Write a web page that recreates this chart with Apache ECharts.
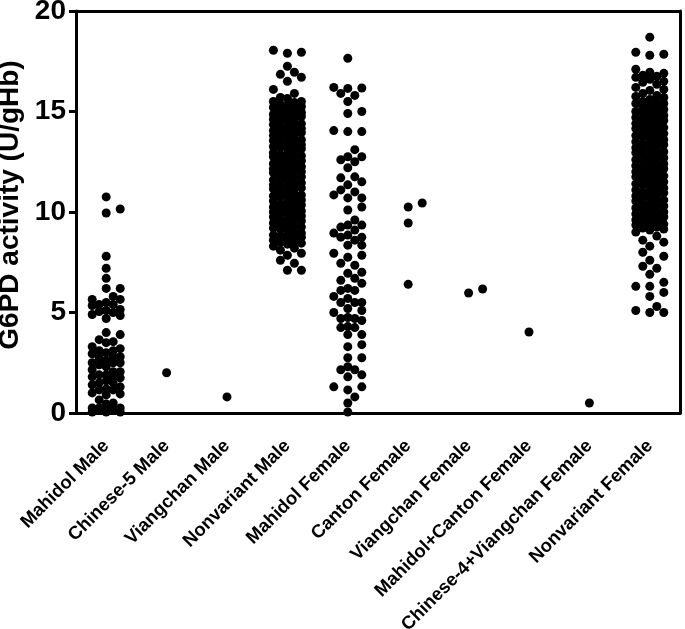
<!DOCTYPE html>
<html><head><meta charset="utf-8">
<script src="https://cdn.jsdelivr.net/npm/echarts@6/dist/echarts.min.js"></script>
<style>html,body{margin:0;padding:0;background:#fff}#c{width:685px;height:629px}</style>
</head><body><div id="c"></div>
<script>
const categories = ['Mahidol Male','Chinese-5 Male','Viangchan Male','Nonvariant Male','Mahidol Female','Canton Female','Viangchan Female','Mahidol+Canton Female','Chinese-4+Viangchan Female','Nonvariant Female'];
const yTicks = [0, 5, 10, 15, 20];

const mahidolMale = [10.75,10.15,9.95,7.8,7.2,6.7,6.2,6.2,5.8,5.65,5.65,5.5,5.4,5.4,5.35,5.15,5.1,5.05,5.0,4.9,4.85,4.7,
  4.0,3.9,3.65,3.55,3.5,3.3,3.2,3.1,3.1,3.0,2.95,2.8,2.75,2.8,2.6,2.5,2.4,2.5,2.5,2.3,2.15,2.05,2.05,1.9,1.8,1.9,1.75,1.8,
  1.6,1.5,1.4,1.5,1.3,1.2,1.15,1.15,1.0,0.9,0.95,0.65,0.5,0.45,0.25,0.25,0.25,0.25,0.25,0.05,0.05,0.05];
const chinese5Male = [2.0];
const viangchanMale = [0.8];
const nonvariantMale = [18.05,17.95,17.9,17.25,16.95,16.85,16.7,16.5,16.1,15.9,
  15.7,15.5,15.5,15.3,15.2,15.2,15.0,14.9,14.8,14.8,14.6,14.5,14.4,14.4,14.2,14.1,14.0,14.0,13.8,13.7,13.6,13.6,13.4,13.3,
  13.2,13.2,13.0,12.9,12.8,12.8,12.6,12.5,12.4,12.4,12.2,12.1,12.0,12.0,11.8,11.7,11.6,11.6,11.4,11.3,11.2,11.2,11.0,10.9,
  10.8,10.8,10.6,10.5,10.4,10.4,10.2,10.1,10.0,10.0,9.8,9.7,9.6,9.6,9.4,9.3,9.2,9.2,9.0,8.9,8.8,8.8,8.6,8.5,8.4,8.3,
  15.65,15.45,15.35,15.25,15.05,14.95,14.85,14.75,14.65,14.55,14.35,14.25,14.15,14.05,13.95,13.85,13.75,13.55,13.45,13.35,
  13.25,13.15,12.95,12.85,12.75,12.65,12.55,12.35,12.25,12.15,12.05,11.95,11.85,11.75,11.55,11.45,11.35,11.25,11.15,10.95,
  10.85,10.75,10.65,10.55,10.35,10.25,10.15,10.05,9.95,9.85,9.75,9.55,9.45,9.35,9.25,9.15,8.95,8.85,8.75,8.65,8.55,8.45,
  8.2,8.1,7.95,7.85,7.6,7.45,7.1,7.1];
const mahidolFemale = [17.65,16.15,16.17,15.8,16.2,15.9,15.5,14.9,15.0,14.0,14.0,14.05,13.1,12.6,12.75,12.75,12.5,12.2,
  11.7,11.5,11.75,11.35,11.0,11.1,10.85,10.7,10.7,10.25,10.1,9.6,9.35,9.25,9.35,9.1,8.85,8.75,8.6,8.95,8.75,8.35,8.35,
  7.85,7.95,7.75,7.45,7.35,7.0,6.95,6.6,6.7,6.45,6.2,6.1,6.1,5.8,5.7,5.5,5.5,5.5,5.1,5.2,5.0,4.7,4.75,4.6,4.7,4.3,4.25,4.25,
  3.9,3.9,3.4,3.3,2.75,2.75,2.3,2.15,2.15,1.8,1.9,1.3,1.15,1.3,0.8,0.5,0.05];
const cantonFemale = [10.25,10.45,9.45,6.4];
const viangchanFemale = [5.97,6.17];
const mahidolCantonFemale = [4.03];
const chinese4ViangchanFemale = [0.5];
const nonvariantFemale = [18.7,17.95,17.85,17.8,
  17.1,16.95,16.9,16.8,16.75,16.7,16.6,16.5,16.45,16.35,16.2,16.1,16.05,15.9,15.8,15.75,15.7,15.6,
  15.5,15.4,15.4,15.2,15.1,15.0,15.0,14.8,14.7,14.6,14.6,14.4,14.3,14.2,14.2,14.0,13.9,13.8,13.8,13.6,13.5,13.4,13.4,13.2,
  13.1,13.0,13.0,12.8,12.7,12.6,12.6,12.4,12.3,12.2,12.2,12.0,11.9,11.8,11.8,11.6,11.5,11.4,11.4,11.2,11.1,11.0,11.0,10.8,
  10.7,10.6,10.6,10.4,10.3,10.2,10.2,10.0,9.9,9.8,9.8,9.6,9.5,9.4,9.4,9.2,9.1,9.0,
  15.45,15.25,15.15,14.95,14.85,14.75,14.55,14.45,14.35,14.15,14.05,13.95,13.75,13.65,13.55,13.35,13.25,13.15,12.95,12.85,
  12.75,12.55,12.45,12.35,12.15,12.05,11.95,11.75,11.65,11.55,11.35,11.25,11.15,10.95,10.85,10.75,10.55,10.45,10.35,10.15,
  10.05,9.95,9.75,9.65,9.55,9.35,9.25,9.15,
  8.8,8.6,8.5,8.3,8.0,7.8,7.6,7.3,7.2,6.9,6.5,6.3,6.3,6.0,5.8,5.3,5.1,5.0,5.0];

const seriesValues = [mahidolMale, chinese5Male, viangchanMale, nonvariantMale, mahidolFemale,
  cantonFemale, viangchanFemale, mahidolCantonFemale, chinese4ViangchanFemale, nonvariantFemale];

const FONT = '"Liberation Sans", Arial, sans-serif';
const BLACK = '#000';
const chart = echarts.init(document.getElementById('c'), null, {renderer: 'canvas'});
chart.setOption({
  animation: false,
  grid: {left: 76, right: 5, top: 11, bottom: 216, containLabel: false, outerBoundsMode: 'none'},
  xAxis: [{
    type: 'category', data: categories, boundaryGap: true, position: 'bottom',
    axisLine: {onZero: false, lineStyle: {color: BLACK, width: 3}},
    axisTick: {alignWithLabel: true, length: 7, lineStyle: {color: BLACK, width: 3}},
    axisLabel: {rotate: 45, interval: 0, margin: 30, color: BLACK, fontWeight: 'bold', fontSize: 18.5, fontFamily: FONT},
    splitLine: {show: false}
  }, {
    type: 'value', min: -0.5, max: 9.5, position: 'top',
    axisLine: {show: true, onZero: false, lineStyle: {color: BLACK, width: 3}},
    axisTick: {show: false}, axisLabel: {show: false}, splitLine: {show: false}
  }],
  yAxis: [{
    type: 'value', min: yTicks[0], max: yTicks[yTicks.length - 1], interval: yTicks[1] - yTicks[0],
    name: 'G6PD activity (U/gHb)', nameLocation: 'middle', nameGap: 8,
    nameTextStyle: {color: BLACK, fontWeight: 'bold', fontSize: 28, fontFamily: FONT, padding: [0, 0, 0, 14]},
    axisLine: {show: true, onZero: false, lineStyle: {color: BLACK, width: 3}},
    axisTick: {show: true, length: 7, lineStyle: {color: BLACK, width: 3}},
    axisLabel: {margin: 10, color: BLACK, fontWeight: 'bold', fontSize: 28, fontFamily: FONT},
    splitLine: {show: false}
  }, {
    type: 'value', min: yTicks[0], max: yTicks[yTicks.length - 1], position: 'right',
    axisLine: {show: true, onZero: false, lineStyle: {color: BLACK, width: 3}},
    axisTick: {show: false}, axisLabel: {show: false}, splitLine: {show: false}
  }],
  series: []
});

// beeswarm layout computed from the axes' pixel scales, spread limited to the column width
const pxPerY = chart.convertToPixel({yAxisIndex: 0}, 0) - chart.convertToPixel({yAxisIndex: 0}, 1);
const pxPerCat = chart.convertToPixel({xAxisIndex: 1}, 1) - chart.convertToPixel({xAxisIndex: 1}, 0);
const STEP = 7, MIN_D = 8.5, MAX_K = 2;
function swarm(vals, cat) {
  const placed = [];
  const out = [];
  vals.slice().sort((a, b) => a - b).forEach(v => {
    const py = v * pxPerY;
    let best = null, bestD = -1;
    for (let i = 0; i <= 2 * MAX_K; i++) {
      const k = i === 0 ? 0 : (i % 2 ? (i + 1) / 2 : -i / 2);
      const px = k * STEP;
      let md = Infinity;
      for (const p of placed) {
        const dx = p[0] - px, dy = p[1] - py;
        const d = Math.sqrt(dx * dx + dy * dy);
        if (d < md) md = d;
      }
      if (md >= MIN_D) { best = px; bestD = md; break; }
      if (md > bestD + 0.01) { bestD = md; best = px; }
    }
    placed.push([best, py]);
    out.push([cat + best / pxPerCat, v]);
  });
  return out;
}
chart.setOption({
  series: seriesValues.map((vals, i) => ({
    type: 'scatter', xAxisIndex: 1, yAxisIndex: 0, name: categories[i],
    symbol: 'circle', symbolSize: 9, itemStyle: {color: BLACK, opacity: 1},
    data: swarm(vals, i), silent: true
  }))
});
</script>
</body></html>
